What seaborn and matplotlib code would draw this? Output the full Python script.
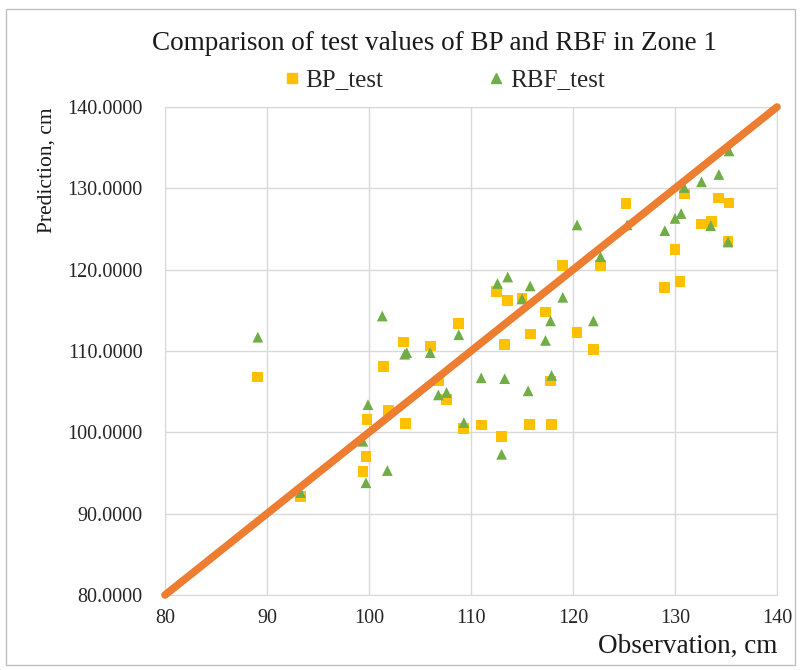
import numpy as np
import pandas as pd
import seaborn as sns
import matplotlib
matplotlib.use("Agg")
import matplotlib.pyplot as plt
from matplotlib.lines import Line2D
from matplotlib.patches import Rectangle
from matplotlib.ticker import FormatStrFormatter

# values
bp_obs = [89.1, 93.3, 99.4, 99.7, 99.8, 101.4, 101.9, 103.4, 103.6, 106.0, 106.8, 107.6, 108.8,
          109.3, 111.0, 112.5, 113.0, 113.3, 113.6, 115.0, 115.7, 115.8, 117.3, 117.8, 117.9,
          119.0, 120.4, 122.0, 122.7, 125.2, 129.0, 130.0, 130.5, 130.9, 132.6, 133.6, 134.3,
          135.2, 135.3]
bp_pred = [106.8, 92.1, 95.2, 97.0, 101.6, 108.1, 102.7, 111.1, 101.1, 110.6, 106.3, 104.0, 113.4,
           100.5, 100.9, 117.3, 99.5, 110.8, 116.2, 116.5, 101.0, 112.1, 114.8, 106.3, 101.0,
           120.5, 112.3, 110.2, 120.5, 128.1, 117.8, 122.5, 118.5, 129.3, 125.6, 125.9, 128.8,
           123.5, 128.2]
rbf_obs = [89.1, 93.3, 99.4, 99.7, 99.9, 101.3, 101.8, 103.5, 103.7, 106.0, 106.8, 107.6, 108.8,
           109.3, 111.0, 112.6, 113.0, 113.3, 113.6, 115.0, 115.6, 115.8, 117.3, 117.8, 117.9,
           119.0, 120.4, 122.0, 122.7, 125.3, 129.0, 130.0, 130.6, 130.9, 132.6, 133.5, 134.3,
           135.2, 135.3]
rbf_pred = [111.7, 92.6, 98.9, 93.8, 103.4, 114.3, 95.3, 109.6, 109.8, 109.8, 104.6, 104.9, 112.0,
            101.2, 106.7, 118.3, 97.3, 106.6, 119.1, 116.4, 105.1, 118.0, 111.3, 113.7, 107.0,
            116.6, 125.5, 113.7, 121.6, 125.5, 124.8, 126.3, 126.9, 130.1, 130.8, 125.4, 131.7,
            123.4, 134.6]
ideal = [80, 140]

df = pd.DataFrame({
    "obs": bp_obs + rbf_obs,
    "pred": bp_pred + rbf_pred,
    "model": ["BP_test"] * len(bp_obs) + ["RBF_test"] * len(rbf_obs),
})
line_df = pd.DataFrame({"obs": ideal, "pred": ideal})

sns.set_style("white")
plt.rcParams["font.family"] = ["Liberation Serif", "DejaVu Serif"]

colors = {"BP_test": "#FFC000", "RBF_test": "#70AD47"}
marks = {"BP_test": "s", "RBF_test": "^"}

fig = plt.figure(figsize=(8.01, 6.70), dpi=100)
ax = fig.add_axes([165 / 801, 75 / 670, 612 / 801, 488 / 670])

sns.scatterplot(data=df, x="obs", y="pred", hue="model", style="model",
                palette=colors, markers=marks, s=60, linewidth=0, legend=False, ax=ax, zorder=3)
sns.lineplot(data=line_df, x="obs", y="pred", color="#ED7D31", linewidth=5.5, ax=ax,
             zorder=4, solid_capstyle="round")
for l in ax.lines:
    l.set_clip_on(False)

ax.set_xlim(80, 140)
ax.set_ylim(80, 140)
ax.set_xticks(range(80, 141, 10))
ax.set_yticks(range(80, 141, 10))
ax.yaxis.set_major_formatter(FormatStrFormatter("%.4f"))
ax.grid(True, color="#D9D9D9", linewidth=1)
for sp in ax.spines.values():
    sp.set_color("#D9D9D9")
ax.tick_params(axis="both", length=0, labelsize=14.5, colors="#262626")
ax.tick_params(axis="y", pad=16)
ax.tick_params(axis="x", pad=10)

ax.set_xlabel("Observation, cm", fontsize=19.5, loc="right", color="#1a1a1a")
ax.set_ylabel("Prediction, cm", fontsize=15.5, loc="top", color="#1a1a1a", labelpad=8)

fig.text(434 / 801, 1 - 43 / 670, "Comparison of test values of BP and RBF in Zone 1",
         ha="center", va="center", fontsize=19.5, color="#1a1a1a")

handles = [Line2D([], [], linestyle="none", marker=marks[k], color=colors[k], markersize=7, label=k)
           for k in ["BP_test", "RBF_test"]]
fig.legend(handles=handles, loc="center", bbox_to_anchor=(442 / 801, 1 - 80 / 670), ncol=2,
           frameon=False, fontsize=18, handletextpad=0.05, columnspacing=4.0, handlelength=1.0)

fig.patches.append(Rectangle((6 / 801, 5 / 670), 789 / 801, 656 / 670, transform=fig.transFigure,
                             fill=False, edgecolor="#BFBFBF", linewidth=1))

fig.savefig("out.png", dpi=100)
